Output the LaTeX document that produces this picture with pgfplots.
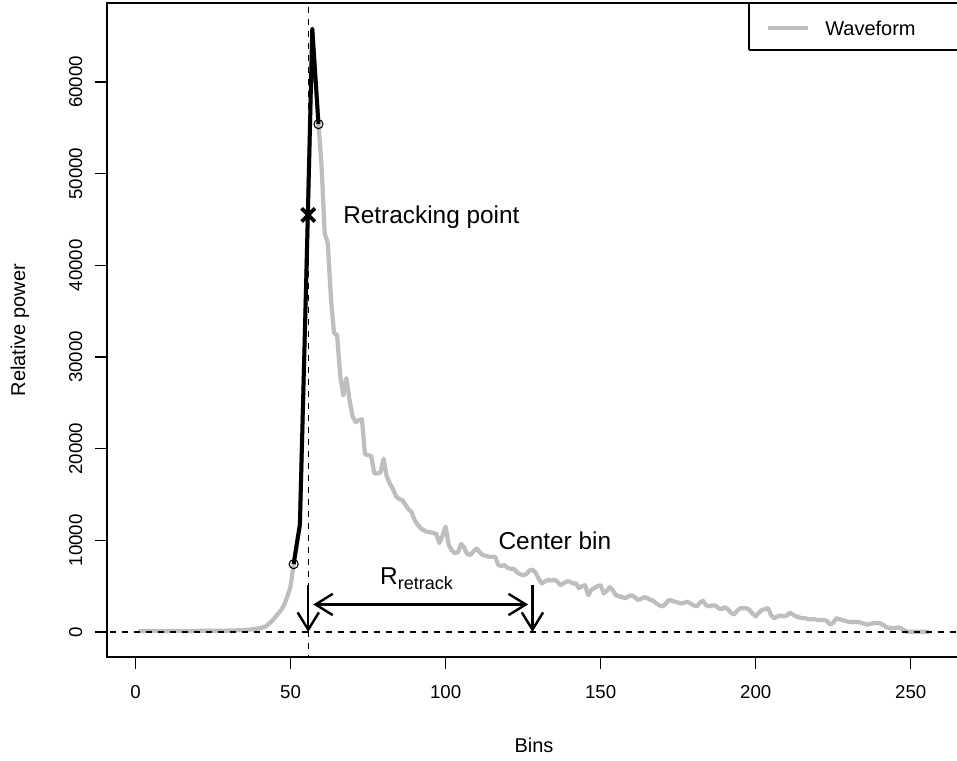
\documentclass[border=0pt]{standalone}
\usepackage{pgfplots}
\pgfplotsset{compat=1.18}
\usepackage{fontspec}
\setmainfont{Liberation Sans}
\usetikzlibrary{arrows.meta}
\definecolor{rgray}{RGB}{190,190,190}

\pgfplotstableread{
x y
1 100
10 100
20 120
30 150
35 200
38 300
40 400
42 600
43 900
44 1200
45 1600
46 2000
47 2400
48 3000
49 3900
50 5000
51 7400
52 9600
53 11700
54 24700
55 37800
56 51500
57 65800
58 60600
59 55400
60 50800
61 43500
62 42400
63 36500
64 32600
65 32400
66 28000
67 25800
68 27700
69 25300
70 23500
71 22900
72 23100
73 23200
74 19400
75 19300
76 19200
77 17300
78 17300
79 17400
80 18900
81 17000
82 16200
83 15600
84 14800
85 14500
86 14400
87 13900
88 13400
89 13100
90 12200
91 11700
92 11300
93 11100
94 10900
95 10900
96 10800
97 10700
98 9700
99 10500
100 11500
101 9500
102 8900
103 8600
104 8700
105 9600
106 9200
107 8500
108 8400
109 8800
110 9100
111 8700
112 8400
113 8300
114 8200
115 8200
116 8200
117 7300
118 7200
119 7300
120 7000
121 6900
122 6900
123 6500
124 6300
125 6200
126 6300
127 6700
128 6800
129 6500
130 5800
131 5300
132 5500
133 5700
134 5600
135 5700
136 5500
137 5100
138 5300
139 5500
140 5500
141 5300
142 5300
143 4800
144 5000
145 5100
146 4000
147 4600
148 4800
149 5000
150 5100
151 4200
152 4500
153 4900
154 4500
155 4000
156 3900
157 3800
158 3700
159 3900
160 4000
161 3800
162 3500
163 3600
164 3800
165 3700
166 3500
167 3400
168 3100
169 2900
170 2800
171 3100
172 3500
173 3400
174 3300
175 3200
176 3100
177 3200
178 3300
179 3100
180 2900
181 2800
182 3200
183 3400
184 2900
185 2800
186 2900
187 2900
188 2600
189 2500
190 2700
191 2500
192 2100
193 1900
194 2300
195 2600
196 2600
197 2600
198 2400
199 2000
200 1700
201 2100
202 2400
203 2500
204 2600
205 1800
206 1500
207 1700
208 1800
209 1700
210 1800
211 2100
212 1900
213 1700
214 1600
215 1500
216 1500
217 1400
218 1400
219 1400
220 1300
221 1300
222 1300
223 1200
224 800
225 1000
226 1500
227 1400
228 1300
229 1200
230 1100
231 1100
232 1100
233 1100
234 1000
235 900
236 800
237 900
238 950
239 950
240 950
241 800
242 550
243 450
244 400
245 450
246 500
247 400
248 150
249 30
252 30
256 30
}\waveform

\pgfplotstableread{
x y
51 7400
52 9600
53 11700
54 24700
55 37800
56 51500
57 65800
58 60600
59 55400
}\leading

\begin{document}
\begin{tikzpicture}
\begin{axis}[
  name=ax,
  scale only axis,
  width=640.5pt, height=490.5pt,
  xmin=-9.2, xmax=266.2, ymin=-2727, ymax=68618,
  axis line style={line width=1pt, black},
  xtick={0,50,...,250},
  ytick={0,10000,...,60000},
  tick align=outside,
  xtick pos=bottom, ytick pos=left,
  major tick length=9pt,
  tick style={line width=1pt, black},
  scaled y ticks=false,
  /pgf/number format/assume math mode=true,
  ticklabel style={font=\fontsize{14pt}{16pt}\selectfont},
  xticklabel style={yshift=-9pt},
  yticklabel style={xshift=-6pt, rotate=90, anchor=south, /pgf/number format/fixed, /pgf/number format/1000 sep={}},
  xlabel={Bins}, ylabel={Relative power},
  label style={font=\fontsize{15pt}{18pt}\selectfont},
  xlabel style={at={(axis description cs:0.5,-0.1346)}, anchor=center},
  ylabel style={at={(axis description cs:-0.1019,0.5)}, anchor=center},
]
\addplot[rgray, line width=3.2pt, line join=round] table[x=x,y=y] {\waveform};
\addplot[black, line width=3pt, line join=round] table[x=x,y=y] {\leading};
\addplot[only marks, mark=o, mark size=3.4pt, black, mark options={line width=0.8pt}] coordinates {(51,7400) (59,55400)};
\addplot[only marks, mark=x, mark size=7pt, black, mark options={line width=2.8pt}] coordinates {(55.7,45500)};
\addplot[black, line width=1pt, dash pattern=on 4.5pt off 4.5pt] coordinates {(-20,0) (300,0)};
\addplot[black, line width=1pt, dash pattern=on 4.5pt off 4.5pt] coordinates {(55.7,80000) (55.7,-5000)};
\addplot[black, line width=1.8pt, -{Straight Barb[length=13pt,width=16pt]}] coordinates {(55.7,5100) (55.7,0)};
\addplot[black, line width=1.8pt, -{Straight Barb[length=13pt,width=16pt]}] coordinates {(128,5100) (128,0)};
\addplot[black, line width=1.8pt, {Straight Barb[length=13pt,width=16pt]}-{Straight Barb[length=13pt,width=16pt]}] coordinates {(57.3,3000) (126.6,3000)};
\node[anchor=base west, inner sep=0pt, font=\fontsize{18.3pt}{21pt}\selectfont] at (axis cs:66.9,44570) {Retracking point};
\node[anchor=base west, inner sep=0pt, font=\fontsize{18.3pt}{21pt}\selectfont] at (axis cs:117,9020) {Center bin};
\node[anchor=base west, inner sep=0pt, font=\fontsize{18.3pt}{21pt}\selectfont] at (axis cs:78.8,5130) {R{\fontsize{13.5pt}{13.5pt}\selectfont\raisebox{-3.5pt}{retrack}}};
\end{axis}
% legend box (topright), cut by the right edge as in the reference
\draw[line width=1pt] ([xshift=-159pt, yshift=-35.25pt]ax.north east) -- ([xshift=-159pt]ax.north east);
\draw[line width=1pt] ([xshift=-159pt, yshift=-35.25pt]ax.north east) -- ([xshift=60pt, yshift=-35.25pt]ax.north east);
\draw[rgray, line width=3.2pt] ([xshift=-144.75pt, yshift=-18.75pt]ax.north east) -- ([xshift=-114.75pt, yshift=-18.75pt]ax.north east);
\node[anchor=west, inner sep=0pt, font=\fontsize{15pt}{18pt}\selectfont] at ([xshift=-102pt, yshift=-18.75pt]ax.north east) {Waveform};
\pgfresetboundingbox
\path[use as bounding box] ([xshift=-80.25pt, yshift=-78pt]ax.south west) rectangle ([xshift=-3pt, yshift=2.25pt]ax.north east);
\end{tikzpicture}
\end{document}
